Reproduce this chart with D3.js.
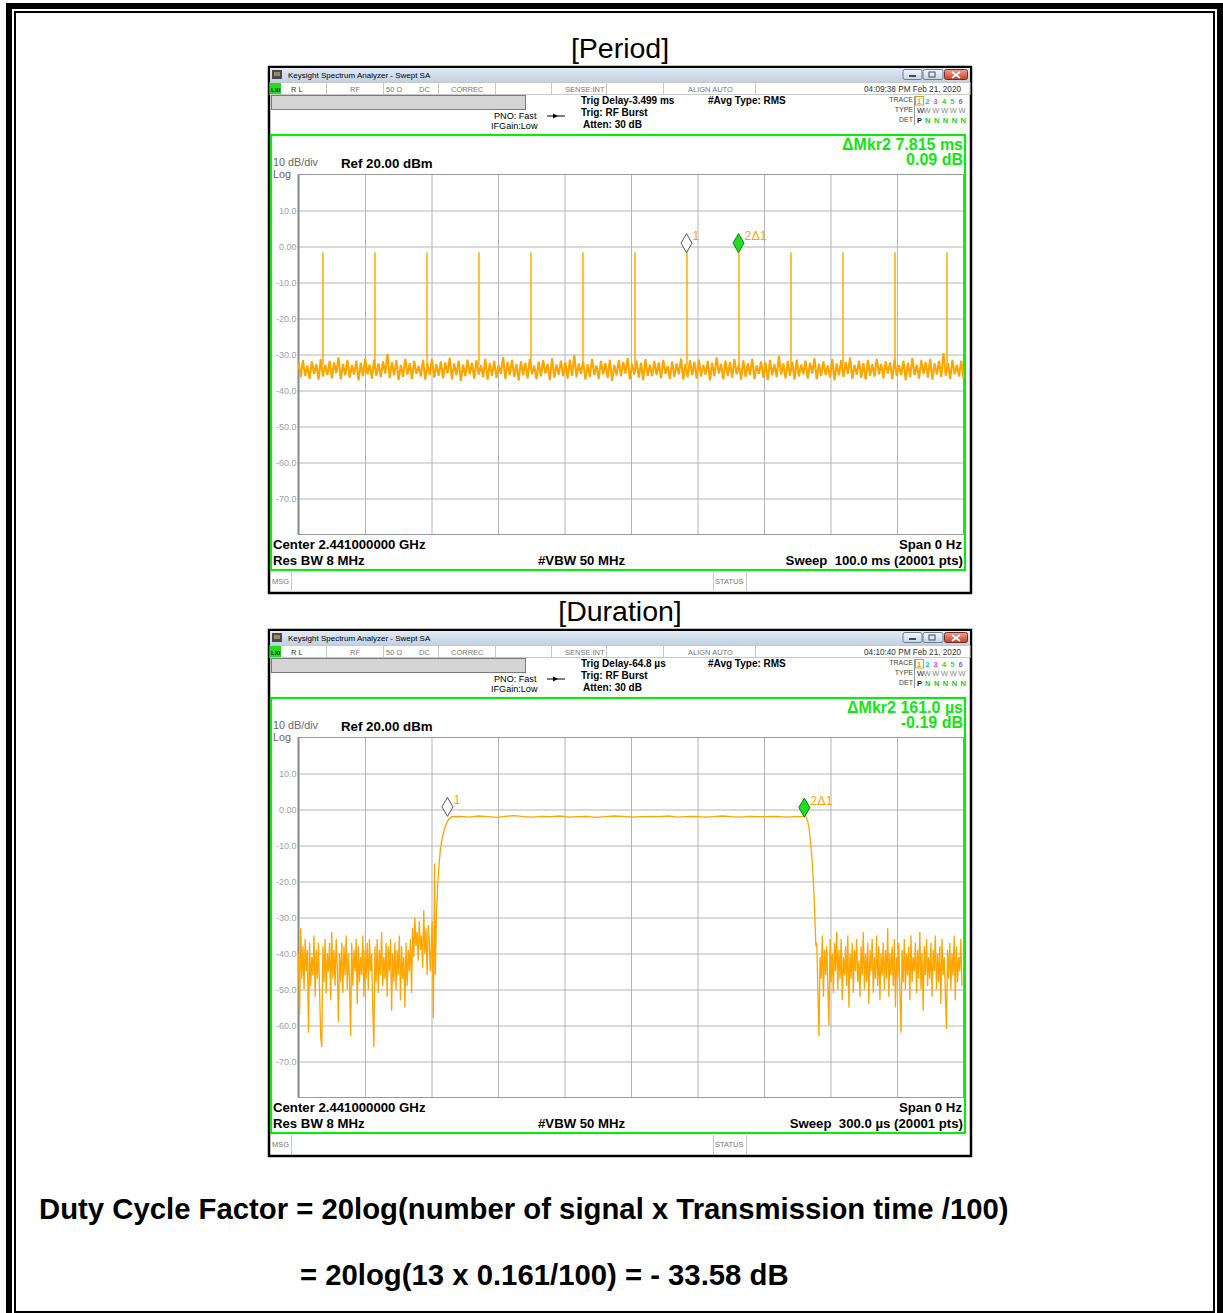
<!DOCTYPE html>
<html>
<head>
<meta charset="utf-8">
<script src="https://cdn.jsdelivr.net/npm/d3@7"></script>
<style>
  body { margin: 0; background: #fff; }
  svg { display: block; font-family: "Liberation Sans", Arial, sans-serif; }
</style>
</head>
<body>
<svg id="chart" width="1223" height="1313"></svg>
<script>
// ---- data ----
const yTicks = [10, 0, -10, -20, -30, -40, -50, -60, -70];
const yTickLabels = ['10.0', '0.00', '-10.0', '-20.0', '-30.0', '-40.0', '-50.0', '-60.0', '-70.0'];
const traceNums = ['1', '2', '3', '4', '5', '6'];
const traceNumColors = ['#e8a000', '#00c8d8', '#f040f0', '#30d030', '#3cc8a0', '#9060ff'];

// period: 100 ms sweep, burst positions (ms) and peak level (dBm)
const periodSpikes = [3.61, 11.43, 19.25, 27.07, 34.89, 42.71, 50.53, 58.35, 66.17, 73.98, 81.80, 89.62, 97.44];
const periodSpikeLevel = -1.7;
const periodMarkers = [58.35, 66.17];
const periodNoise = [
  -32.4,-36.2,-31.6,-35.9,-33.1,-36.8,-31.9,-35.4,-32.7,-37.0,-31.3,-36.1,-32.9,-35.7,-31.8,-36.6,-32.2,-35.2,-30.8,-36.9,
  -32.6,-35.8,-31.5,-36.4,-33.0,-35.6,-31.7,-37.2,-32.3,-36.0,-31.1,-35.5,-32.8,-36.7,-31.4,-35.9,-32.5,-36.3,-31.9,-35.3,
  -29.8,-36.5,-32.1,-35.8,-31.6,-37.1,-32.9,-36.2,-31.2,-35.6,-32.4,-36.8,-31.8,-35.4,-33.2,-36.1,-31.5,-37.0,-32.6,-35.7,
  -31.3,-36.4,-32.7,-35.9,-31.9,-36.6,-32.2,-35.3,-30.9,-36.9,-32.5,-35.8,-31.7,-37.3,-32.8,-36.0,-31.4,-35.5,-32.3,-36.7,
  -31.6,-35.6,-33.0,-36.3,-31.2,-37.0,-32.4,-35.9,-31.8,-36.5,-32.9,-35.4,-30.7,-36.8,-32.1,-35.7,-31.5,-36.2,-32.7,-37.2,
  -31.9,-35.8,-32.3,-36.6,-31.3,-35.5,-33.1,-36.9,-32.0,-36.1,-31.6,-35.3,-32.6,-37.1,-31.1,-36.4,-32.8,-35.6,-31.7,-36.0,
  -32.2,-36.7,-31.4,-35.9,-30.2,-36.3,-32.5,-35.4,-31.9,-37.0,-32.7,-36.2,-31.2,-35.7,-33.0,-36.8,-31.8,-35.5,-32.4,-36.5,
  -31.5,-37.3,-32.9,-35.8,-31.6,-36.1,-32.1,-35.3,-31.0,-36.9,-32.6,-35.6,-31.7,-36.4,-32.3,-37.1,-31.3,-35.9,-32.8,-36.0,
  -31.8,-35.7,-32.2,-36.6,-31.5,-35.4,-33.2,-36.8,-31.9,-36.2,-32.5,-35.5,-31.1,-37.0,-32.7,-36.3,-31.6,-35.8,-32.0,-36.7,
  -31.4,-36.1,-32.9,-35.6,-31.8,-37.2,-32.3,-36.0,-30.8,-35.3,-32.6,-36.9,-31.7,-35.9,-32.1,-36.4,-31.3,-35.5,-32.8,-37.0,
  -31.6,-36.2,-32.4,-35.7,-31.2,-36.8,-33.0,-35.4,-31.9,-36.5,-32.2,-37.1,-31.5,-35.8,-32.7,-36.3,-30.4,-35.6,-32.5,-36.6,
  -31.8,-35.9,-32.0,-37.0,-31.4,-36.1,-32.8,-35.5,-31.7,-36.7,-32.3,-35.3,-31.1,-36.9,-32.6,-36.0,-31.9,-35.7,-33.1,-36.4,
  -31.3,-37.2,-32.5,-35.8,-31.6,-36.2,-32.1,-35.4,-30.9,-36.8,-32.9,-35.6,-31.8,-36.5,-32.4,-37.0,-31.5,-35.9,-32.7,-36.1,
  -31.2,-35.5,-32.6,-36.6,-31.9,-35.3,-32.2,-36.9,-31.4,-36.0,-33.0,-35.7,-31.7,-37.1,-32.3,-36.3,-31.0,-35.8,-32.8,-36.7,
  -31.6,-35.4,-32.1,-36.4,-31.3,-37.0,-32.5,-35.6,-31.8,-36.2,-29.6,-35.9,-32.4,-36.8,-31.5,-35.5,-32.9,-36.1,-31.7,-36.6
];

// duration: 300 us sweep
const durationMarkers = [67.2, 228.2];
const durationMarkerLevels = [-1.9, -2.1];
const durLeftNoise = [  // 0 .. 59.5 us, 0.5 us apart
  -40,-57,-33,-47,-38,-50,-36,-45,-39,-62,-37,-49,-41,-46,-35,-52,-39,-47,-37,-50,
  -63,-66,-38,-48,-36,-51,-40,-45,-37,-53,-34,-47,-39,-49,-36,-44,-59,-40,-48,-37,
  -51,-38,-46,-35,-50,-40,-47,-63,-37,-49,-39,-45,-36,-54,-38,-48,-41,-46,-35,-52,
  -39,-47,-37,-50,-36,-45,-40,-55,-66,-38,-48,-36,-51,-39,-46,-34,-49,-41,-47,-37,
  -52,-38,-45,-36,-56,-40,-48,-37,-50,-39,-46,-35,-53,-38,-47,-41,-55,-37,-49,-39,
  -45,-36,-51,-33,-41,-30,-38,-34,-42,-31,-39,-35,-44,-28,-40,-33,-46,-32,-37,-45
];
const durRise = [[60.3,-31],[60.8,-58],[61.4,-15],[61.7,-46],[62.3,-28],[62.8,-21],[63.3,-16],[64.0,-11],[64.8,-8],[65.8,-5.5],[66.8,-3.8],[67.8,-2.6],[69,-2.1]];
const durFlat = [  // 69 .. 228 us
  -2.0,-1.9,-2.1,-1.8,-2.0,-2.2,-1.9,-1.7,-2.0,-2.1,-1.9,-2.0,-1.8,-2.1,-2.0,-1.9,-2.2,-2.0,-1.8,-1.9,
  -2.1,-2.0,-1.9,-2.0,-1.8,-2.1,-2.0,-1.9,-2.1,-2.0,-1.8,-2.0,-2.1,-1.9,-2.0,-2.0,-1.9,-2.1,-2.0,-2.0
];
const durFall = [[229.0,-2.1],[229.8,-3.5],[230.4,-5.5],[230.9,-8.5],[231.5,-12.5],[232.0,-17],[232.5,-23],[232.9,-29],[233.4,-38]];
const durRightNoise = [  // 233.8 .. 299.3 us, 0.5 us apart
  -37,-50,-63,-41,-47,-35,-52,-39,-46,-38,-49,-60,-36,-48,-40,-51,-37,-45,-34,-50,
  -39,-47,-36,-53,-41,-46,-38,-49,-35,-55,-40,-47,-37,-51,-39,-45,-36,-48,-42,-52,
  -38,-46,-34,-50,-40,-48,-37,-54,-39,-45,-36,-51,-41,-47,-35,-49,-38,-53,-40,-46,
  -37,-50,-39,-47,-33,-52,-40,-46,-38,-49,-36,-55,-41,-47,-37,-51,-62,-39,-48,-36,
  -50,-40,-46,-38,-53,-35,-48,-41,-45,-37,-51,-39,-47,-34,-50,-40,-56,-38,-46,-36,
  -49,-41,-47,-37,-52,-39,-45,-35,-50,-40,-48,-38,-54,-36,-46,-41,-51,-61,-39,-47,
  -37,-50,-40,-46,-35,-53,-38,-48,-41,-45,-36,-49
];

const ORANGE = '#ffa500';
const GREEN = '#11e611';

const svg = d3.select('#chart');
const defs = svg.append('defs');
function grad(id, c1, c2) {
  const lg = defs.append('linearGradient').attr('id', id).attr('x1', 0).attr('y1', 0).attr('x2', 0).attr('y2', 1);
  lg.append('stop').attr('offset', 0).attr('stop-color', c1);
  lg.append('stop').attr('offset', 1).attr('stop-color', c2);
}
grad('tbar', '#e2eaf4', '#c2d1e3');
grad('btn', '#f4f7fb', '#c8d4e2');
grad('cls', '#eba597', '#c2402c');

function label(g, x, y, s, size, opt = {}) {
  return g.append('text').attr('x', x).attr('y', y).attr('font-size', size)
    .attr('font-weight', opt.bold ? 'bold' : null)
    .attr('fill', opt.fill || '#000')
    .attr('text-anchor', opt.anchor || 'start')
    .style('white-space', 'pre')
    .text(s);
}

function drawPanel(oy, p) {
  const g = svg.append('g').attr('transform', `translate(0,${oy})`);

  // window frame
  g.append('rect').attr('x', 269).attr('y', 67).attr('width', 702).attr('height', 526)
    .attr('fill', '#fff').attr('stroke', '#000').attr('stroke-width', 2.5);
  g.append('rect').attr('x', 270).attr('y', 68).attr('width', 700).attr('height', 14).attr('fill', 'url(#tbar)');
  g.append('rect').attr('x', 272).attr('y', 70).attr('width', 10).attr('height', 9).attr('fill', '#4a4a4a');
  g.append('rect').attr('x', 274).attr('y', 72).attr('width', 6).attr('height', 4).attr('fill', '#9a8a60');
  label(g, 288, 78, 'Keysight Spectrum Analyzer - Swept SA', 8);

  // window buttons
  g.append('rect').attr('x', 903).attr('y', 69.5).attr('width', 19).attr('height', 10).attr('rx', 2)
    .attr('fill', 'url(#btn)').attr('stroke', '#6d7d90');
  g.append('rect').attr('x', 909).attr('y', 75).attr('width', 7).attr('height', 2).attr('fill', '#3a4a60');
  g.append('rect').attr('x', 923).attr('y', 69.5).attr('width', 20).attr('height', 10).attr('rx', 2)
    .attr('fill', 'url(#btn)').attr('stroke', '#6d7d90');
  g.append('rect').attr('x', 929).attr('y', 72).attr('width', 6).attr('height', 5).attr('fill', 'none').attr('stroke', '#3a4a60');
  g.append('rect').attr('x', 944.5).attr('y', 69.5).attr('width', 23).attr('height', 10).attr('rx', 2)
    .attr('fill', 'url(#cls)').attr('stroke', '#7a2a20');
  g.append('path').attr('d', 'M952,72 L960,78 M960,72 L952,78').attr('stroke', '#fff').attr('stroke-width', 1.6);

  // status row
  g.append('rect').attr('x', 270).attr('y', 82.5).attr('width', 700).attr('height', 12)
    .attr('fill', '#fff').attr('stroke', '#c8c8c8');
  g.append('rect').attr('x', 270).attr('y', 83).attr('width', 11).attr('height', 11).attr('fill', '#22dd22');
  label(g, 271, 92, 'LXI', 6, { bold: true, fill: '#111' });
  [326, 383, 438, 495, 551, 606, 663, 755].forEach(sx => {
    g.append('line').attr('x1', sx + 0.5).attr('x2', sx + 0.5).attr('y1', 83).attr('y2', 94).attr('stroke', '#c8c8c8');
  });
  label(g, 291, 91.5, 'R L', 7.5, { fill: '#333' });
  label(g, 350, 91.5, 'RF', 7.5, { fill: '#777' });
  label(g, 386, 91.5, '50 Ω', 7.5, { fill: '#777' });
  label(g, 419, 91.5, 'DC', 7.5, { fill: '#777' });
  label(g, 451, 91.5, 'CORREC', 7.5, { fill: '#777' });
  label(g, 565, 91.5, 'SENSE:INT', 7.5, { fill: '#777' });
  label(g, 688, 91.5, 'ALIGN AUTO', 7.5, { fill: '#777' });
  label(g, 961, 91.5, p.stamp, 8.2, { fill: '#333', anchor: 'end' });

  // settings area
  g.append('rect').attr('x', 271.5).attr('y', 95.5).attr('width', 254).attr('height', 14)
    .attr('fill', '#d4d4d4').attr('stroke', '#7a7a7a');
  label(g, 494, 119, 'PNO: Fast', 9.1);
  label(g, 491, 129, 'IFGain:Low', 9.1);
  g.append('line').attr('x1', 547).attr('x2', 565).attr('y1', 116).attr('y2', 116).attr('stroke', '#000');
  g.append('path').attr('d', 'M553,113.5 L558,116 L553,118.5 Z').attr('fill', '#000');
  label(g, 581, 104, p.trigDelay, 10, { bold: true });
  label(g, 581, 116, 'Trig: RF Burst', 10, { bold: true });
  label(g, 583, 128, 'Atten: 30 dB', 10, { bold: true });
  label(g, 708, 104, '#Avg Type: RMS', 10, { bold: true });
  label(g, 913, 102, 'TRACE', 7, { fill: '#444', anchor: 'end' });
  label(g, 913, 112, 'TYPE', 7, { fill: '#444', anchor: 'end' });
  label(g, 913, 122, 'DET', 7, { fill: '#444', anchor: 'end' });
  g.append('line').attr('x1', 914.5).attr('x2', 914.5).attr('y1', 96).attr('y2', 125).attr('stroke', '#999');
  g.append('rect').attr('x', 915.5).attr('y', 96.5).attr('width', 8).attr('height', 8.5)
    .attr('fill', 'none').attr('stroke', '#e8a000');
  traceNums.forEach((n, i) => label(g, 917 + i * 8.3, 103.5, n, 7.5, { bold: true, fill: traceNumColors[i] }));
  label(g, 917, 113, 'W', 7.5, { fill: '#222' });
  label(g, 923.5, 113, 'WWWWW', 7.5, { fill: '#888' }).attr('textLength', 42);
  label(g, 917, 123, 'P', 7.5, { bold: true, fill: '#222' });
  label(g, 925, 123, 'N N N N N', 7.5, { bold: true, fill: '#22cc22' }).attr('textLength', 41);

  // green measurement frame
  g.append('rect').attr('x', 271).attr('y', 135).attr('width', 694).attr('height', 435)
    .attr('fill', '#fff').attr('stroke', GREEN).attr('stroke-width', 2.2);

  // scales
  const x = d3.scaleLinear().domain([0, p.sweep]).range([298.5, 963.5]);
  const y = d3.scaleLinear().domain([-80, 20]).range([534.5, 174.5]);

  // grid
  const gx = g.append('g').attr('transform', 'translate(0,534.5)')
    .call(d3.axisBottom(x).tickValues(d3.range(1, 10).map(i => i * p.sweep / 10)).tickSize(-360).tickFormat(''));
  gx.select('.domain').remove();
  gx.selectAll('line').attr('stroke', '#b4b4b4');
  const gy = g.append('g').attr('transform', 'translate(298.5,0)')
    .call(d3.axisLeft(y).tickValues(yTicks).tickSize(-665).tickPadding(2).tickFormat((d, i) => yTickLabels[i]));
  gy.select('.domain').remove();
  gy.selectAll('line').attr('stroke', '#b4b4b4');
  gy.selectAll('text').attr('fill', '#a0a0a0').attr('font-size', 9).attr('font-family', null);
  g.append('rect').attr('x', x(0)).attr('y', y(20)).attr('width', x(p.sweep) - x(0)).attr('height', y(-80) - y(20))
    .attr('fill', 'none').attr('stroke', '#999');
  g.append('line').attr('x1', x(0)).attr('x2', x(0)).attr('y1', y(20)).attr('y2', y(-80))
    .attr('stroke', '#888').attr('stroke-width', 2);

  // annotations
  label(g, 273, 165.5, '10 dB/div', 10.8, { fill: '#666' });
  label(g, 273, 177.5, 'Log', 10.8, { fill: '#666' });
  label(g, 341, 168, 'Ref 20.00 dBm', 13.3, { bold: true });
  label(g, 963, 150, p.mkrText, 16, { bold: true, fill: GREEN, anchor: 'end' });
  label(g, 963, 165, p.mkrDb, 16, { bold: true, fill: GREEN, anchor: 'end' });
  label(g, 273, 549, 'Center 2.441000000 GHz', 13.2, { bold: true });
  label(g, 273, 565, 'Res BW 8 MHz', 13.2, { bold: true });
  label(g, 538, 565, '#VBW 50 MHz', 13.2, { bold: true });
  label(g, 962, 549, 'Span 0 Hz', 13.2, { bold: true, anchor: 'end' });
  label(g, 963, 565, p.sweepText, 13.2, { bold: true, anchor: 'end' });

  // bottom status row
  g.append('line').attr('x1', 291.5).attr('x2', 291.5).attr('y1', 572).attr('y2', 592).attr('stroke', '#c8c8c8');
  g.append('line').attr('x1', 713.5).attr('x2', 713.5).attr('y1', 572).attr('y2', 592).attr('stroke', '#c8c8c8');
  g.append('line').attr('x1', 746.5).attr('x2', 746.5).attr('y1', 572).attr('y2', 592).attr('stroke', '#c8c8c8');
  label(g, 272, 584, 'MSG', 7.5, { fill: '#777' });
  label(g, 715, 584, 'STATUS', 7.5, { fill: '#777' });

  return { g, x, y };
}

function drawMarkers(g, x, y, times, levels) {
  const names = ['1', '2\u03941'];
  times.forEach((t, i) => {
    const cx = x(t), cy = y(levels[i]) - 9.5;
    g.append('path')
      .attr('d', `M${cx},${cy - 9.5} L${cx + 5.5},${cy} L${cx},${cy + 9.5} L${cx - 5.5},${cy} Z`)
      .attr('fill', i === 0 ? '#fff' : '#22dd22')
      .attr('stroke', i === 0 ? '#555' : '#0a7a0a').attr('stroke-width', 1);
    label(g, cx + 6, cy - 3, names[i], 12.5, { fill: ORANGE });
  });
}

// page border
svg.append('path').attr('d', 'M9,1313 V6 H1220 V1313').attr('fill', 'none').attr('stroke', '#000').attr('stroke-width', 6);
svg.append('path').attr('d', 'M15,1313 V12 H1214 V1313').attr('fill', 'none').attr('stroke', '#000').attr('stroke-width', 2);
svg.append('line').attr('x1', 14).attr('x2', 1215).attr('y1', 1312).attr('y2', 1312).attr('stroke', '#000').attr('stroke-width', 2);

// titles
label(svg, 620, 58, '[Period]', 28.5, { anchor: 'middle' });
label(svg, 620, 621, '[Duration]', 28.5, { anchor: 'middle' });

// ---- Period panel ----
const P = drawPanel(0, {
  sweep: 100, stamp: '04:09:38 PM Feb 21, 2020', trigDelay: 'Trig Delay-3.499 ms',
  mkrText: '\u0394Mkr2 7.815 ms', mkrDb: '0.09 dB', sweepText: 'Sweep  100.0 ms (20001 pts)'
});
const line = (x, y) => d3.line().x(d => x(d[0])).y(d => y(d[1]));
const periodPts = periodNoise.map((v, i) => [i * 100 / (periodNoise.length - 1), v]);
P.g.append('path').datum(periodPts).attr('d', line(P.x, P.y))
  .attr('fill', 'none').attr('stroke', ORANGE).attr('stroke-width', 2.1);
P.g.selectAll('.spike').data(periodSpikes).join('path').attr('class', 'spike')
  .attr('d', t => `M${P.x(t)},${P.y(-33)} V${P.y(periodSpikeLevel)} H${P.x(t + 0.16)} V${P.y(-33)}`)
  .attr('fill', 'none').attr('stroke', ORANGE).attr('stroke-opacity', 0.75).attr('stroke-width', 1);
drawMarkers(P.g, P.x, P.y, periodMarkers, [periodSpikeLevel, periodSpikeLevel]);

// ---- Duration panel ----
const D = drawPanel(563, {
  sweep: 300, stamp: '04:10:40 PM Feb 21, 2020', trigDelay: 'Trig Delay-64.8 \u00b5s',
  mkrText: '\u0394Mkr2 161.0 \u00b5s', mkrDb: '-0.19 dB', sweepText: 'Sweep  300.0 \u00b5s (20001 pts)'
});
const durPts = [].concat(
  durLeftNoise.map((v, i) => [i * 0.5, v]),
  durRise,
  durFlat.map((v, i) => [69 + i * 159 / (durFlat.length - 1), v]),
  durFall,
  durRightNoise.map((v, i) => [233.8 + i * 0.5, v])
);
D.g.append('path').datum(durPts).attr('d', line(D.x, D.y))
  .attr('fill', 'none').attr('stroke', ORANGE).attr('stroke-width', 1.3);
drawMarkers(D.g, D.x, D.y, durationMarkers, durationMarkerLevels);

// ---- formula text ----
label(svg, 39, 1219, 'Duty Cycle Factor = 20log(number of signal x Transmission time /100)', 29.3, { bold: true });
label(svg, 300, 1285, '= 20log(13 x 0.161/100) = - 33.58 dB', 29.3, { bold: true });
</script>
</body>
</html>
